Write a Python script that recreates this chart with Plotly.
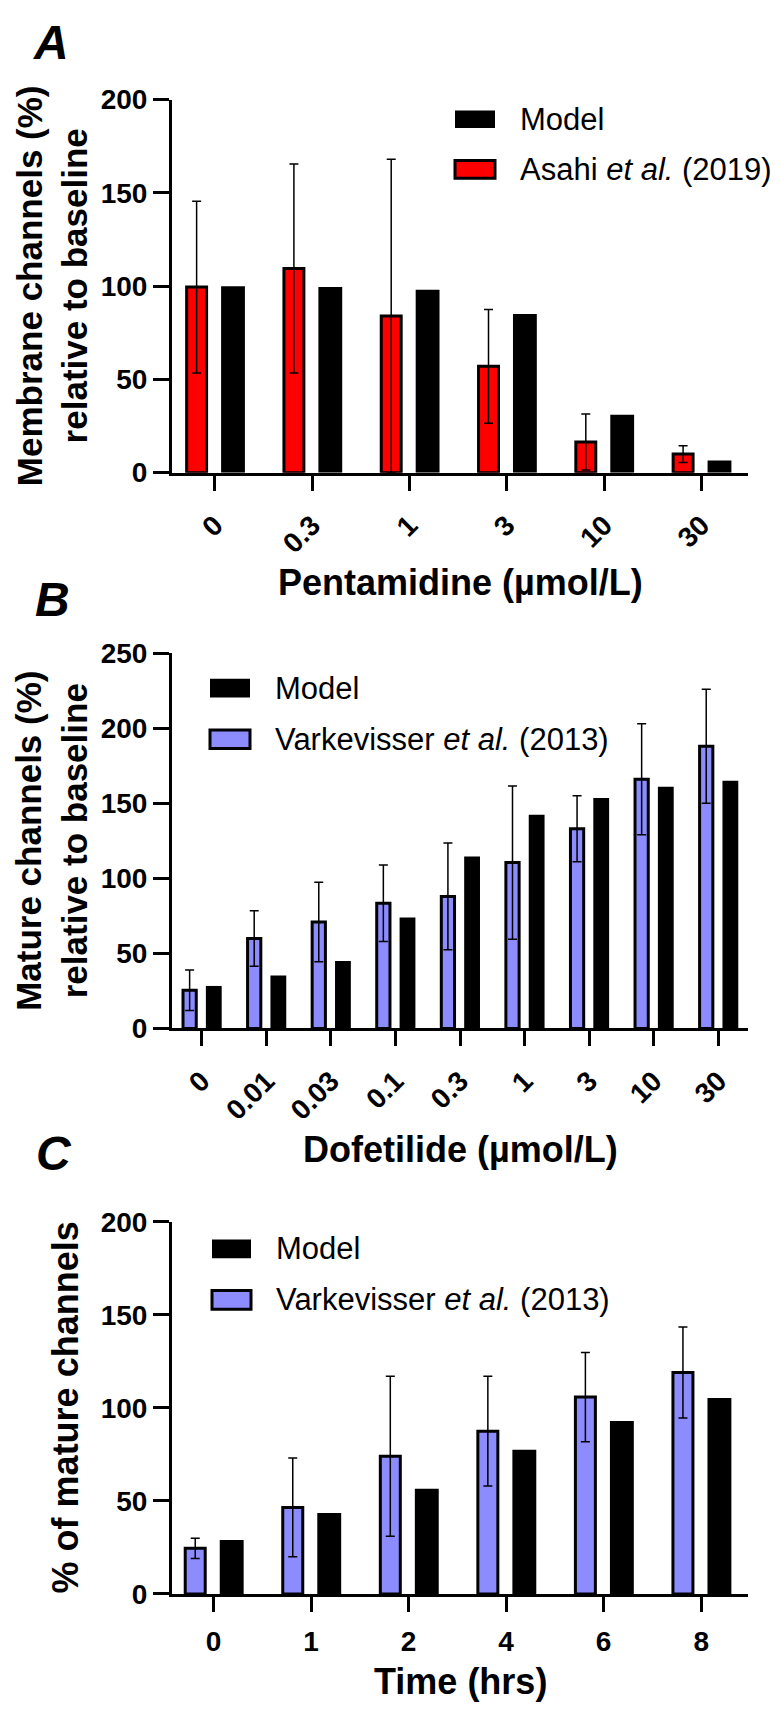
import plotly.graph_objects as go

# Browser window size and the default 8px page (body) margin around the plot div
W, H = 780, 1723
OX, OY = 8, 8
FW, FH = W - 2 * OX, H - 2 * OY

# ---------------- data ----------------
# Panel A: Pentamidine
penta_labels = ["0", "0.3", "1", "3", "10", "30"]
asahi_mean = [99.5, 109.5, 84, 57, 16.5, 10]
asahi_err = [46, 56, 84, 30.5, 15, 4.5]
modelA = [100, 99.5, 98, 85, 31, 6.5]

# Panel B: Dofetilide concentration
dofe_labels = ["0", "0.01", "0.03", "0.1", "0.3", "1", "3", "10", "30"]
vark_conc_mean = [25.5, 60, 71, 83.5, 88, 110.5, 133, 166, 188]
vark_conc_err = [13.5, 18.5, 26.5, 25.5, 35.5, 51, 22, 37, 38]
modelB = [28.3, 35.3, 45, 74, 114.6, 142.4, 153.5, 161, 165]

# Panel C: time course
time_labels = ["0", "1", "2", "4", "6", "8"]
vark_time_mean = [24.5, 46.5, 74, 87.5, 105.8, 119]
vark_time_err = [5.5, 26.5, 43, 29.5, 24, 24.5]
modelC = [29, 43.5, 56.5, 77.5, 93, 105.3]

RED = "#ff0000"
BLUE = "#8c8cff"
BLACK = "#000000"
FONT = "Liberation Sans, Arial, Helvetica, sans-serif"


def px_x(x):
    return (x - OX) / FW


def px_y(y):
    return 1 - (y - OY) / FH


# plot-area pixel boxes (left, right, top, bottom) in window pixels
panels = [
    dict(box=(172, 748, 86, 466), labels=penta_labels, exp=asahi_mean, err=asahi_err,
         model=modelA, color=RED, yrange=[0, 200], angle=-45,
         xr=[-0.44, 5.48], standoff=7),
    dict(box=(172, 748, 650, 1032), labels=dofe_labels, exp=vark_conc_mean, err=vark_conc_err,
         model=modelB, color=BLUE, yrange=[0, 250], angle=-45,
         xr=[-0.46, 8.46], standoff=7),
    dict(box=(172, 748, 1229, 1608), labels=time_labels, exp=vark_time_mean, err=vark_time_err,
         model=modelC, color=BLUE, yrange=[0, 200], angle=0,
         xr=[-0.425, 5.48], standoff=5),
]

fig = go.Figure()
layout = dict(
    width=FW, height=FH, margin=dict(l=0, r=0, t=0, b=0),
    paper_bgcolor="white", plot_bgcolor="white",
    barmode="overlay", showlegend=False,
    font=dict(family=FONT, color="black"),
)

OFF = 0.187
W_EXP = 0.205
W_MOD = 0.245

for i, p in enumerate(panels):
    n = i + 1
    xa = "x" if n == 1 else f"x{n}"
    ya = "y" if n == 1 else f"y{n}"
    xs = list(range(len(p["labels"])))
    fig.add_trace(go.Bar(
        x=xs, y=p["exp"], xaxis=xa, yaxis=ya,
        offset=-OFF - W_EXP / 2, width=W_EXP,
        marker=dict(color=p["color"], line=dict(color=BLACK, width=3)),
        error_y=dict(type="data", array=p["err"], visible=True,
                     color=BLACK, thickness=1.5, width=4.5),
    ))
    fig.add_trace(go.Bar(
        x=xs, y=p["model"], xaxis=xa, yaxis=ya,
        offset=OFF - W_MOD / 2, width=W_MOD,
        marker=dict(color=BLACK, line=dict(width=0)),
    ))
    l, r, t, b = p["box"]
    layout["xaxis" if n == 1 else f"xaxis{n}"] = dict(
        domain=[px_x(l), px_x(r)], anchor=ya, range=p["xr"],
        tickmode="array", tickvals=xs, ticktext=p["labels"],
        tickangle=p["angle"], ticks="outside", ticklen=15, tickwidth=3,
        tickcolor=BLACK, showline=True, linewidth=3, linecolor=BLACK,
        showgrid=False, zeroline=False, ticklabelstandoff=p["standoff"],
        tickfont=dict(family=FONT, size=28, weight="bold", color=BLACK),
    )
    layout["yaxis" if n == 1 else f"yaxis{n}"] = dict(
        domain=[px_y(b), px_y(t)], anchor=xa, range=p["yrange"], dtick=50,
        ticks="outside", ticklen=16, tickwidth=3, tickcolor=BLACK,
        showline=True, linewidth=3, linecolor=BLACK,
        showgrid=False, zeroline=False,
        tickfont=dict(family=FONT, size=28, weight="bold", color=BLACK),
    )

fig.update_layout(**layout)

ann = []
shapes = []


def text(x, y, s, size, weight="normal", style="normal", angle=0, xanchor="center", yanchor="middle"):
    ann.append(dict(
        x=px_x(x), y=px_y(y), xref="paper", yref="paper", text=s, showarrow=False,
        textangle=angle, xanchor=xanchor, yanchor=yanchor,
        font=dict(family=FONT, size=size, weight=weight, style=style, color=BLACK),
    ))


# panel letters
text(51, 28, "A", 48, weight="bold", style="italic")
text(52, 595, "B", 48, weight="bold", style="italic")
text(54, 1159.5, "C", 48, weight="bold", style="italic")

# axis titles
text(460, 577.5, "Pentamidine (µmol/L)", 36, weight="bold")
text(460, 1155, "Dofetilide (µmol/L)", 36, weight="bold")
text(460, 1697.5, "Time (hrs)", 36, weight="bold")
text(52, 276, "Membrane channels (%)<br>relative to baseline", 35, weight="bold", angle=-90)
text(52, 841, "Mature channels (%)<br>relative to baseline", 35, weight="bold", angle=-90)
text(65, 1418, "% of mature channels", 36, weight="bold", angle=-90)


# legends (swatches + labels)
def legend_item(x0, x1, y0, y1, fill, outline, label):
    shapes.append(dict(type="rect", xref="paper", yref="paper",
                       x0=px_x(x0), x1=px_x(x1), y0=px_y(y1), y1=px_y(y0),
                       fillcolor=fill, line=dict(color=BLACK, width=3 if outline else 0)))
    text(x1 + 23, (y0 + y1) / 2, label, 31, xanchor="left")


legend_item(455, 495, 97, 115, BLACK, False, "Model")
legend_item(455, 495, 148, 166, RED, True, "Asahi <i>et al.</i> (2019)")
legend_item(210, 250, 676, 695, BLACK, False, "Model")
legend_item(210, 250, 728, 747, BLUE, True, "Varkevisser <i>et al.</i> (2013)")
legend_item(212, 251, 1247, 1266, BLACK, False, "Model")
legend_item(212, 251, 1299, 1318, BLUE, True, "Varkevisser <i>et al.</i> (2013)")

fig.update_layout(annotations=ann, shapes=shapes)
fig.write_html("out.html")
